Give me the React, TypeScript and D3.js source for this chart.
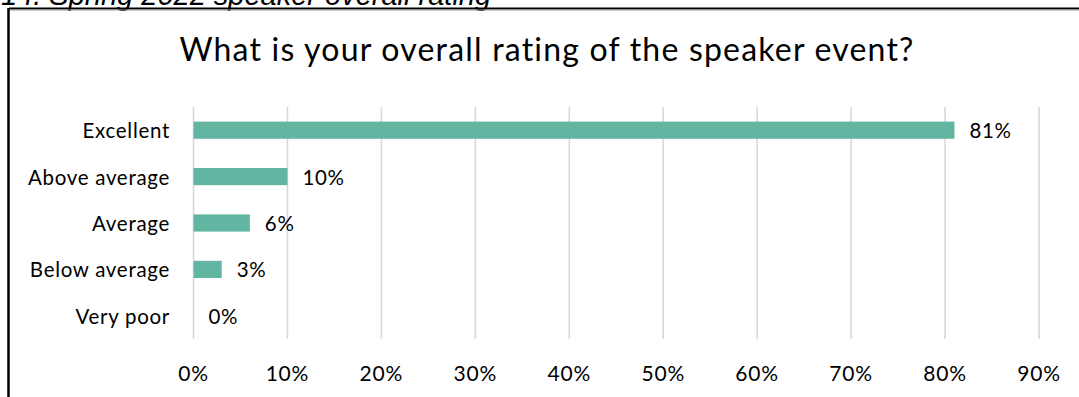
import React from "react";
import * as d3 from "d3";

const categories = ["Excellent", "Above average", "Average", "Below average", "Very poor"];
const values = [81, 10, 6, 3, 0];
const xTicks = [0, 10, 20, 30, 40, 50, 60, 70, 80, 90];
const title = "What is your overall rating of the speaker event?";
const caption = "14. Spring 2022 speaker overall rating";

const W = 1079;
const H = 397;
const FONT = "Lato, Carlito, Calibri, sans-serif";

export default function App() {
  const x = d3.scaleLinear().domain([0, 90]).range([193.5, 1039]);
  const y = d3.scaleBand<string>().domain(categories).range([107, 339]).paddingInner(0.63).paddingOuter(0.315);
  const fmt = (v: number) => `${v}%`;

  return (
    <svg width={W} height={H} style={{ position: "absolute", left: 0, top: 0 }} fontFamily={FONT}>
      <rect width={W} height={H} fill="#fff" />
      <text x={1} y={5} fontFamily="'Liberation Sans', Arial, sans-serif" fontStyle="italic" fontSize={29} fill="#000">
        {caption}
      </text>
      <line x1={9} x2={W} y1={8.5} y2={8.5} stroke="#000" strokeWidth={2} />
      <line x1={9} x2={W} y1={10} y2={10} stroke="#999" strokeWidth={1} />
      <line x1={8.5} x2={8.5} y1={8} y2={H} stroke="#000" strokeWidth={2.5} />
      <text x={547} y={61} textAnchor="middle" fontSize={32} letterSpacing={1.2} fill="#000">
        {title}
      </text>
      {xTicks.map((t) => (
        <g key={t}>
          <line x1={x(t)} x2={x(t)} y1={107} y2={339} stroke="#d9d9d9" strokeWidth={1.6} />
          <text x={x(t)} y={372} textAnchor="middle" dominantBaseline="central" fontSize={21} letterSpacing={0.8} fill="#000">
            {fmt(t)}
          </text>
        </g>
      ))}
      {categories.map((c, i) => {
        const yc = (y(c) as number) + y.bandwidth() / 2;
        return (
          <g key={c}>
            <rect x={x(0)} y={y(c)} width={x(values[i]) - x(0)} height={y.bandwidth()} fill="#62B5A0" />
            <text x={170} y={yc} textAnchor="end" dominantBaseline="central" fontSize={20.5} letterSpacing={0.7} fill="#000">
              {c}
            </text>
            <text x={x(values[i]) + 15} y={yc} dominantBaseline="central" fontSize={20.5} letterSpacing={0.7} fill="#000">
              {fmt(values[i])}
            </text>
          </g>
        );
      })}
    </svg>
  );
}
